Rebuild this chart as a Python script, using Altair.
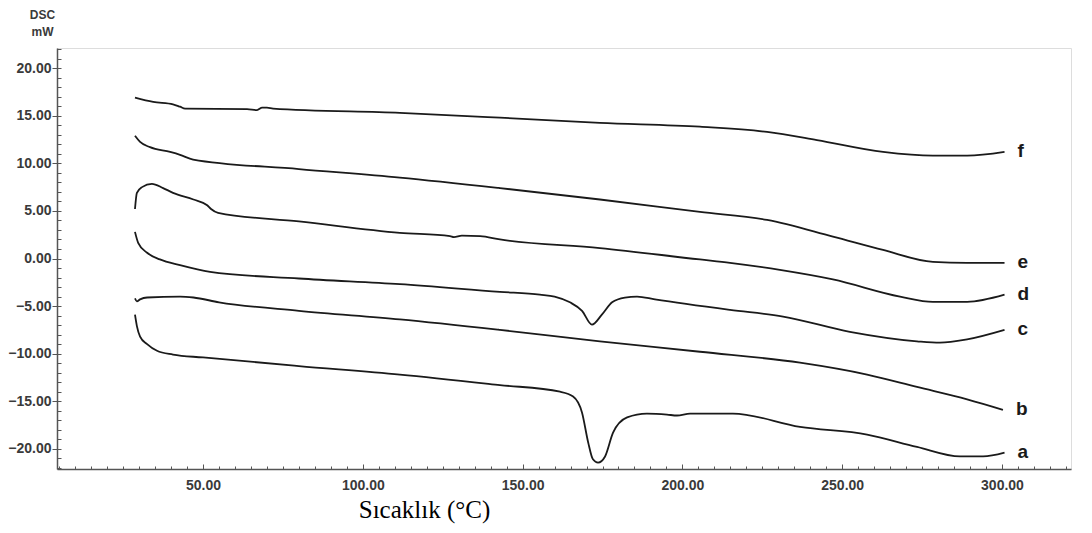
import altair as alt
import pandas as pd

# ---- data (temperature in °C, DSC signal in mW) ----
a_x = [28.7, 29.3, 30.3, 32.5, 35.6, 40.6, 50.0, 80.0, 111.6, 142.9, 161.7, 165.8, 168.6, 170.5, 172.0, 173.6,
       175.8, 178.3, 182.7, 188.9, 195.2, 198.3, 202.4, 215.8, 236.8, 257.8, 273.4, 286.9, 294.1, 300.8]
a_y = [-5.9, -7.1, -8.2, -9.0, -9.7, -10.1, -10.4, -11.3, -12.2, -13.3, -14.0, -14.5, -16.2, -19.3, -21.1, -21.45,
       -20.8, -18.3, -16.7, -16.3, -16.4, -16.5, -16.3, -16.3, -17.7, -18.5, -19.8, -20.8, -20.8, -20.4]

b_x = [28.7, 29.3, 30.3, 32.5, 42.8, 47.0, 55.0, 80.0, 111.6, 142.9, 174.2, 205.5, 236.8, 257.8, 273.4, 289.1, 300.3]
b_y = [-4.2, -4.5, -4.3, -4.1, -4.0, -4.1, -4.6, -5.5, -6.4, -7.5, -8.7, -9.8, -10.95, -12.2, -13.5, -14.8, -15.9]

c_x = [28.7, 29.7, 32.5, 36.5, 42.8, 52.2, 80.0, 111.6, 142.9, 155.4, 160.0, 164.8, 168.6, 171.7, 174.8, 178.0,
       182.0, 185.8, 191.4, 214.9, 231.5, 252.4, 273.4, 280.6, 289.1, 300.8]
c_y = [2.8, 1.65, 0.6, -0.1, -0.7, -1.4, -2.1, -2.7, -3.5, -3.8, -4.0, -4.6, -5.5, -6.95, -5.9, -4.6,
       -4.1, -4.0, -4.3, -5.4, -6.1, -7.7, -8.7, -8.85, -8.5, -7.5]

d_x = [28.7, 29.3, 30.9, 34.0, 37.5, 40.6, 47.0, 51.3, 52.5, 54.7, 80.0, 111.6, 127.3, 128.5, 131.0, 136.7,
       142.9, 174.2, 205.5, 214.9, 230.5, 247.1, 268.1, 278.4, 289.1, 300.8]
d_y = [5.2, 6.9, 7.5, 7.85, 7.4, 6.9, 6.2, 5.6, 5.2, 4.8, 3.9, 2.7, 2.35, 2.25, 2.4, 2.35,
       2.0, 1.1, -0.1, -0.45, -1.2, -2.2, -4.0, -4.55, -4.55, -3.8]

e_x = [28.7, 30.3, 33.4, 39.7, 42.8, 46.9, 80.0, 111.6, 142.9, 174.2, 205.5, 226.5, 247.1, 262.8, 278.4, 289.1, 300.8]
e_y = [12.9, 12.25, 11.7, 11.2, 10.9, 10.4, 9.4, 8.5, 7.4, 6.2, 4.9, 4.05, 2.3, 0.9, -0.35, -0.45, -0.45]

f_x = [28.7, 34.4, 40.6, 42.8, 44.4, 63.8, 66.9, 68.5, 70.0, 71.9, 111.6, 142.9, 174.2, 205.5, 226.5, 242.1,
       262.8, 278.4, 289.1, 300.8]
f_y = [16.9, 16.45, 16.2, 15.95, 15.75, 15.7, 15.6, 15.85, 15.85, 15.75, 15.3, 14.8, 14.25, 13.85, 13.3, 12.45,
       11.2, 10.8, 10.8, 11.2]

curve_names = ["a", "b", "c", "d", "e", "f"]
x_ticks = [50, 100, 150, 200, 250, 300]
y_ticks = [-20, -15, -10, -5, 0, 5, 10, 15, 20]
x_minor = list(range(5, 325, 5))
y_minor = list(range(-22, 23))

series = dict(zip(curve_names, [(a_x, a_y), (b_x, b_y), (c_x, c_y), (d_x, d_y), (e_x, e_y), (f_x, f_y)]))
rows = []
for name, (xs, ys) in series.items():
    for i, (xv, yv) in enumerate(zip(xs, ys)):
        rows.append({"curve": name, "order": i, "T": xv, "V": yv})
df = pd.DataFrame(rows)
lab = df.sort_values("order").groupby("curve").tail(1)

xscale = alt.Scale(domain=[4.3, 321.6], nice=False, zero=False)
yscale = alt.Scale(domain=[-22.12, 22.12], nice=False, zero=False)

FONT = "Liberation Sans"
AX = "#555555"
LBL = "#3a3a3a"

lines = alt.Chart(df).mark_line(color="#1a1a1a", strokeWidth=1.8, interpolate="monotone").encode(
    x=alt.X("T:Q", scale=xscale, axis=alt.Axis(
        orient="bottom", values=x_ticks, format=".2f", ticks=False, labelPadding=9, grid=False,
        labelFont=FONT, labelFontSize=14, labelFontWeight="bold", labelColor=LBL,
        domainColor=AX, domainWidth=1.5,
        title="Sıcaklık (°C)", titleFont="Liberation Serif", titleFontSize=25, titleFontWeight="normal",
        titleColor="#000000", titleX=367, titleY=48, titleAlign="center", titleBaseline="alphabetic")),
    y=alt.Y("V:Q", scale=yscale, axis=alt.Axis(
        orient="left", values=y_ticks, format=".2f", tickSize=5, tickColor=AX, labelPadding=1, grid=False,
        labelFont=FONT, labelFontSize=14, labelFontWeight="bold", labelColor=LBL,
        domainColor=AX, domainWidth=1.5,
        title=["DSC", "mW"], titleAngle=0, titleX=-15, titleY=-30, titleAlign="center",
        titleBaseline="alphabetic", titleFont=FONT, titleFontSize=12, titleFontWeight="bold",
        titleColor=LBL, titleLineHeight=17)),
    detail="curve:N",
    order="order:Q",
)

minor = alt.Chart(df).mark_line(opacity=0).encode(
    x=alt.X("T:Q", scale=xscale, axis=alt.Axis(
        orient="bottom", values=x_minor, offset=-3, tickSize=3, tickColor=AX, labels=False,
        domain=False, grid=False, title=None)),
    y=alt.Y("V:Q", scale=yscale, axis=alt.Axis(
        orient="left", values=y_minor, offset=-4, tickSize=4, tickColor=AX, labels=False,
        domain=False, grid=False, title=None)),
    detail="curve:N",
)

major = alt.Chart(df).mark_line(opacity=0).encode(
    x=alt.X("T:Q", scale=xscale, axis=alt.Axis(
        orient="bottom", values=x_ticks, offset=-5, tickSize=5, tickColor=AX, labels=False,
        domain=False, grid=False, title=None)),
    y=alt.Y("V:Q", scale=yscale, axis=None),
    detail="curve:N",
)

labels = alt.Chart(lab).mark_text(
    align="left", baseline="middle", dx=13, dy=-1, font=FONT, fontSize=19, fontWeight="bold", color="#1a1a1a"
).encode(
    x=alt.X("T:Q", scale=xscale, axis=None),
    y=alt.Y("V:Q", scale=yscale, axis=None),
    text="curve:N",
)

chart = alt.layer(lines, minor, major, labels).resolve_axis(
    x="independent", y="independent"
).properties(
    width=1014, height=421,
    autosize=alt.AutoSizeParams(type="none"),
    padding={"left": 49, "top": 40, "right": 13, "bottom": 56},
).configure_view(stroke="#888888", strokeWidth=1).configure(background="white")

chart.save("out.html", embed_options={"renderer": "svg", "actions": False})
